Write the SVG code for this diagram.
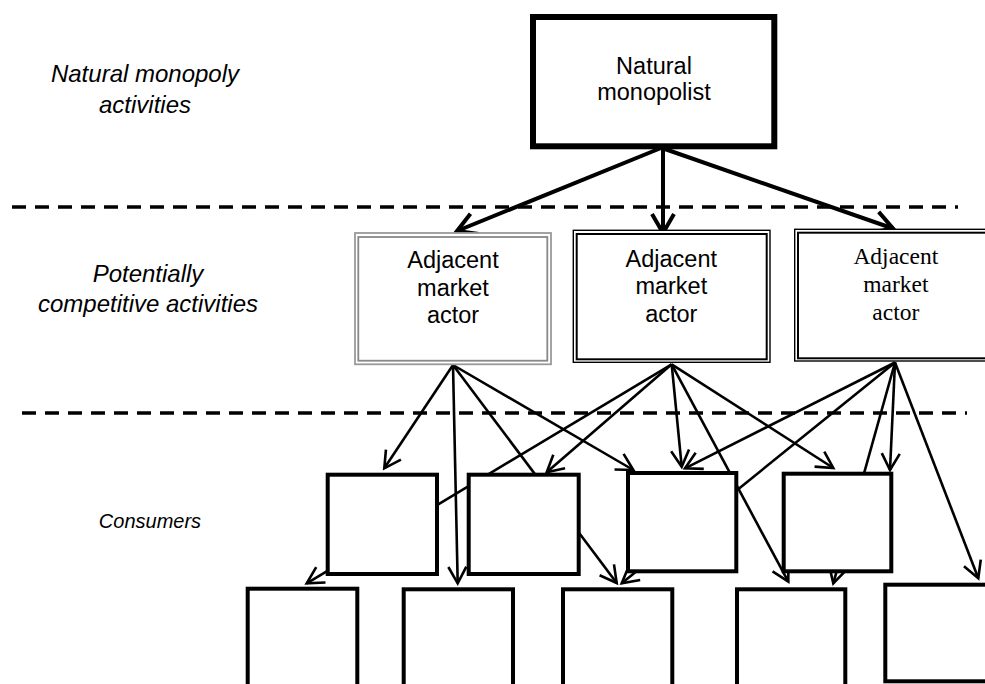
<svg xmlns="http://www.w3.org/2000/svg" width="985" height="684" viewBox="0 0 985 684">
<defs>
<style>
.lbl{font-family:"Liberation Sans",Arial,sans-serif;font-style:italic;font-size:24px;fill:#000;text-anchor:middle}
.sans{font-family:"Liberation Sans",Arial,sans-serif;font-size:23.5px;fill:#000;text-anchor:middle}
.serif{font-family:"Liberation Serif","Times New Roman",serif;font-size:23.5px;fill:#000;text-anchor:middle}
.dash{stroke:#000;stroke-width:3.5;stroke-dasharray:14 9;fill:none}
.big{stroke:#000;stroke-width:4;fill:none;marker-end:url(#ahBig)}
.sm{stroke:#000;stroke-width:2.6;fill:none;marker-end:url(#ahSm)}
.cons{fill:#fff;stroke:#000;stroke-width:4}
</style>
<marker id="ahBig" markerUnits="userSpaceOnUse" orient="auto" refX="0" refY="0" markerWidth="60" markerHeight="60" style="overflow:visible">
<path d="M-19,-11 L0,0 L-19,11" fill="none" stroke="#000" stroke-width="4"/>
</marker>
<marker id="ahSm" markerUnits="userSpaceOnUse" orient="auto" refX="0" refY="0" markerWidth="60" markerHeight="60" style="overflow:visible">
<path d="M-16.5,-9 L0,0 L-16.5,9" fill="none" stroke="#000" stroke-width="2.6"/>
</marker>
</defs>
<rect x="0" y="0" width="985" height="684" fill="#fff"/>

<g id="labels">
<text class="lbl" x="145" y="81.7">Natural monopoly</text>
<text class="lbl" x="145" y="112.7">activities</text>
<text class="lbl" x="148" y="281.7">Potentially</text>
<text class="lbl" x="148" y="311.7">competitive activities</text>
<text class="lbl" x="150" y="528" style="font-size:20px">Consumers</text>
</g>

<g id="dividers">
<line class="dash" x1="12" y1="207" x2="958" y2="207"/>
<line class="dash" x1="22" y1="413" x2="967" y2="413"/>
</g>

<g id="connectors">
<line class="big" x1="661" y1="148" x2="457" y2="231"/>
<line class="big" x1="663" y1="148" x2="663" y2="233"/>
<line class="big" x1="662" y1="148" x2="893" y2="228.5"/>

<line class="sm" x1="453" y1="365" x2="384.3" y2="468.3"/>
<line class="sm" x1="453" y1="365" x2="457.7" y2="583.3"/>
<line class="sm" x1="453" y1="365" x2="616.7" y2="583"/>
<line class="sm" x1="453" y1="365" x2="633.3" y2="470"/>

<line class="sm" x1="671.7" y1="364.3" x2="306.7" y2="583.3"/>
<line class="sm" x1="671.7" y1="364.3" x2="546.7" y2="472.3"/>
<line class="sm" x1="671.7" y1="364.3" x2="681.7" y2="466.7"/>
<line class="sm" x1="671.7" y1="364.3" x2="788.3" y2="581.7"/>
<line class="sm" x1="671.7" y1="364.3" x2="833.3" y2="468"/>

<line class="sm" x1="895" y1="362.5" x2="685" y2="468.3"/>
<line class="sm" x1="895" y1="362.5" x2="621.7" y2="583.3"/>
<line class="sm" x1="895" y1="362.5" x2="833.3" y2="583.3"/>
<line class="sm" x1="895" y1="362.5" x2="890" y2="470"/>
<line class="sm" x1="895" y1="362.5" x2="978.3" y2="578.3"/>
</g>

<g id="monopolist">
<rect x="533" y="17" width="241.3" height="129.3" fill="#fff" stroke="#000" stroke-width="6"/>
<text class="sans" x="654" y="74">Natural</text>
<text class="sans" x="654" y="100">monopolist</text>
</g>

<g id="actorA">
<rect x="355" y="233" width="196" height="131.3" fill="#fff" stroke="#999" stroke-width="1.8"/>
<rect x="358.3" y="237" width="189" height="123.7" fill="none" stroke="#888" stroke-width="1.8"/>
<text class="sans" x="453" y="268.3">Adjacent</text>
<text class="sans" x="453" y="296">market</text>
<text class="sans" x="453" y="322.7">actor</text>
</g>

<g id="actorB">
<rect x="573.3" y="230.3" width="196.7" height="132" fill="#fff" stroke="#000" stroke-width="1.4"/>
<rect x="576.7" y="234" width="190" height="125.3" fill="none" stroke="#000" stroke-width="2"/>
<text class="sans" x="671.3" y="266.7">Adjacent</text>
<text class="sans" x="671.3" y="294">market</text>
<text class="sans" x="671.3" y="321.7">actor</text>
</g>

<g id="actorC">
<rect x="794.7" y="229.3" width="210" height="131.7" fill="#fff" stroke="#000" stroke-width="1.4"/>
<rect x="798" y="232.7" width="200" height="125.6" fill="none" stroke="#000" stroke-width="2"/>
<text class="serif" x="895.8" y="264">Adjacent</text>
<text class="serif" x="895.8" y="291.7">market</text>
<text class="serif" x="895.8" y="320">actor</text>
</g>

<g id="consumer1"><rect class="cons" x="327.7" y="474.7" width="109.3" height="99.3"/></g>
<g id="consumer2"><rect class="cons" x="468.7" y="474.7" width="110" height="99.3"/></g>
<g id="consumer3"><rect class="cons" x="628" y="473" width="108.3" height="98.3"/></g>
<g id="consumer4"><rect class="cons" x="783.7" y="473.7" width="107.6" height="97.6"/></g>
<g id="consumer5"><rect class="cons" x="247.7" y="588.7" width="109.6" height="120"/></g>
<g id="consumer6"><rect class="cons" x="403.7" y="589.3" width="109.3" height="120"/></g>
<g id="consumer7"><rect class="cons" x="563" y="589.3" width="109.3" height="120"/></g>
<g id="consumer8"><rect class="cons" x="737" y="589.3" width="108.3" height="120"/></g>
<g id="consumer9"><rect class="cons" x="885.3" y="584.7" width="130" height="96.6"/></g>
</svg>
